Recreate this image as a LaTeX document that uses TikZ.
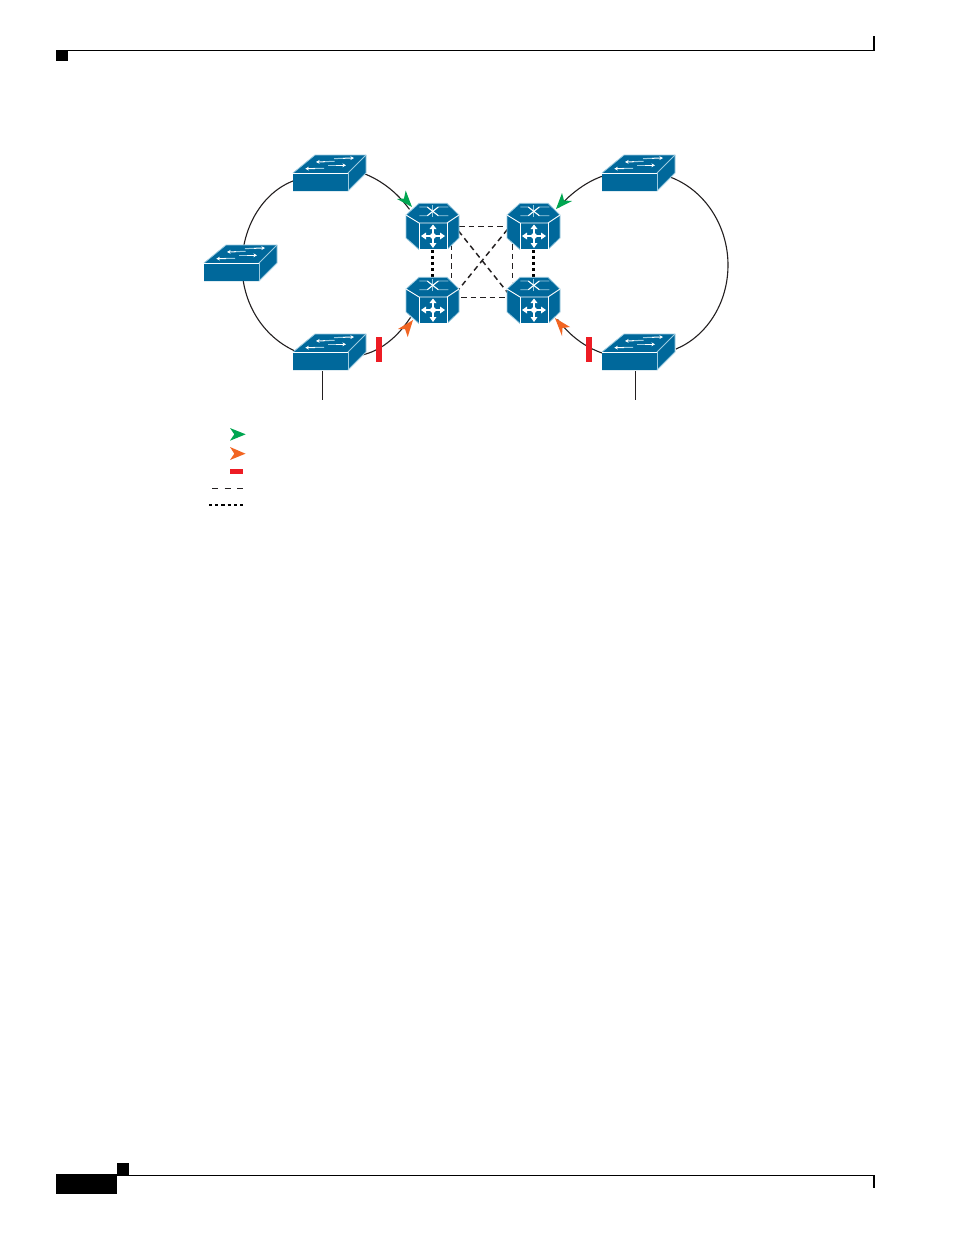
\documentclass[tikz,border=0pt]{standalone}
\definecolor{cblue}{HTML}{00689B}
\definecolor{cedge}{HTML}{9CCBE0}
\definecolor{cgreen}{HTML}{00A651}
\definecolor{corange}{HTML}{F26522}
\definecolor{cred}{HTML}{ED1C24}
\definecolor{cline}{HTML}{231F20}
\usetikzlibrary{arrows.meta}
\tikzset{
  devnode/.style={inner sep=0pt,outer sep=0pt,draw=none},
  swnode/.style={devnode,minimum width=73pt,minimum height=36pt},
  rtnode/.style={devnode,minimum width=53pt,minimum height=46pt},
  conn/.style={draw=cline,line width=1.1pt},
  dashlink/.style={draw=cline,line width=1.45pt,dash pattern=on 5.5pt off 4pt},
  dotlink/.style={draw=black,line width=2.05pt,dash pattern=on 3.1pt off 3.1pt},
  edgew/.style={draw=white,line width=0.9pt},
  edgel/.style={draw=cedge,line width=0.8pt},
  arr/.style={draw=white,line width=1pt,-{Stealth[length=3.6pt,width=3.8pt]}},
  arrl/.style={draw=cedge,line width=1pt},
  redbar/.style={fill=cred,draw=none},
  blk/.style={fill=black,draw=none},
}
% switch icon, origin = front-face top-left corner
\newcommand\swicon[2]{%
\begin{scope}[shift={(#1,#2)}]
  \fill[cblue] (0,0) -- (22,-18) -- (73,-18) -- (73,0) -- (55,18) -- (0,18) -- cycle;
  \draw[edgel] (0,0) -- (22,-18) -- (73,-18) -- (73,0) -- (55,18);
  \draw[edgew] (0,0) -- (55,0);
  \draw[edgel] (55,0) -- (73,-18);
  \draw[edgel] (55,0) -- (55,18);
  \draw[arrl] (41,-14.4) -- (52,-14.7);
  \draw[arr] (50,-14.7) -- (61,-15);
  \draw[arrl] (30,-11.3) -- (41.7,-11.7);
  \draw[arr] (32,-11.3) -- (23,-11);
  \draw[arrl] (35,-7.7) -- (45,-7.7);
  \draw[arr] (43,-7.7) -- (53,-7.7);
  \draw[arrl] (20,-4.5) -- (31,-4.7);
  \draw[arr] (22,-4.5) -- (12.3,-4.3);
\end{scope}}
% router icon, origin = upper-left vertex of the octagon
\newcommand\rticon[2]{%
\begin{scope}[shift={(#1,#2)}]
  \fill[cblue] (0,0) -- (13,-11.7) -- (41,-11.7) -- (53,0) -- (53,23) -- (41,34.5) -- (13,34.5) -- (0,23) -- cycle;
  \draw[edgel] (0,0) -- (13,-11.7) -- (41,-11.7) -- (53,0) -- (53,23) -- (41,34.5) -- (13,34.5) -- (0,23) -- cycle;
  \draw[edgew] (0,0) -- (13,8) -- (41,8) -- (53,0);
  \draw[edgew] (13,8) -- (13,34.5) -- (41,34.5) -- (41,8);
  \draw[edgel] (13.3,-8) -- (21.3,-8) -- (32.3,0.7) -- (42.3,0.7);
  \draw[edgel] (13.3,0.7) -- (21.3,0.7) -- (32.3,-8) -- (42.3,-8);
  \draw[edgel] (26.7,-9.7) -- (26.7,2.3);
  \draw[white,line width=1pt] (21.3,-8) -- (32.3,0.7) (21.3,0.7) -- (32.3,-8);
  \draw[white,line width=1.8pt] (18,21) -- (36,21) (27,12) -- (27,30);
  \fill[white] (27,21) circle (3pt);
  \fill[white] (15,21) -- (20,17.5) -- (20,24.5) -- cycle;
  \fill[white] (39,21) -- (34,17.5) -- (34,24.5) -- cycle;
  \fill[white] (27,9.5) -- (23.5,14) -- (30.5,14) -- cycle;
  \fill[white] (27,33) -- (23.5,28) -- (30.5,28) -- cycle;
\end{scope}}
\begin{document}
\begin{tikzpicture}[x=1pt,y=-1pt]
\useasboundingbox (0,0) rectangle (954,1235);
\fill[white] (0,0) rectangle (954,1235);
% page furniture
\fill[blk] (68,49.8) rectangle (875,50.9);
\fill[blk] (56,50) rectangle (68,60.7);
\fill[blk] (873,36) rectangle (875,50.9);
\fill[blk] (129,1174.8) rectangle (875,1175.9);
\fill[blk] (56,1174) rectangle (117,1194);
\fill[blk] (117,1163) rectangle (129,1175.5);
\fill[blk] (873,1175) rectangle (875,1188);
% device anchors
\node[swnode] (s1) at (329.5,173) {};
\node[swnode] (s2) at (240.5,263) {};
\node[swnode] (s3) at (329.5,352) {};
\node[swnode] (s4) at (638.5,173) {};
\node[swnode] (s5) at (638.5,352) {};
\node[rtnode] (r1) at (432.5,226.4) {};
\node[rtnode] (r2) at (533.5,226.4) {};
\node[rtnode] (r3) at (432.5,300.4) {};
\node[rtnode] (r4) at (533.5,300.4) {};
\coordinate (t1) at (322.4,399.5);
\coordinate (t2) at (635.4,399.5);
% ring links
\draw[conn] ([shift={(-36.5,8)}]s1.center) .. controls (262,193) and (242,228) .. ([shift={(1.5,2)}]s2.center);
\draw[conn] ([shift={(1.5,2)}]s2.center) .. controls (242,302) and (262,336) .. ([shift={(-34.5,-1)}]s3.center);
\draw[conn] ([shift={(35.5,1)}]s1.center) .. controls (380,180) and (396,191) .. ([shift={(-23,-17)}]r1.center);
\draw[conn] ([shift={(32.5,3)}]s3.center) .. controls (380,351) and (397,338) .. ([shift={(-22,17)}]r3.center);
\draw[conn] ([shift={(-35.5,3)}]s4.center) .. controls (588,181) and (572,192) .. ([shift={(25,-19)}]r2.center);
\draw[conn] ([shift={(-36.5,1)}]s5.center) .. controls (585,347) and (570,336) .. ([shift={(24,19)}]r4.center);
\draw[conn] ([shift={(31.5,4)}]s4.center) .. controls (705,190) and (728,226) .. (728,265) .. controls (728,305) and (705,337) .. ([shift={(37.5,-3)}]s5.center);
\draw[conn] ([yshift=-1pt]s3.south -| t1) -- (t1);
\draw[conn] ([yshift=-1pt]s5.south -| t2) -- (t2);
% core links
\draw[dashlink] (r1) -- (r2);
\draw[dashlink] ([shift={(0,-2.7)}]r3.center) -- ([shift={(0,-2.7)}]r4.center);
\draw[dotlink] (r1) -- (r3);
\draw[dotlink] (r2) -- (r4);
\draw[dashlink] ([shift={(19.2,18)}]r1.center) -- ([shift={(19.2,-18)}]r3.center);
\draw[dashlink] ([shift={(-20.8,18)}]r2.center) -- ([shift={(-20.8,-18)}]r4.center);
\draw[dashlink] ([shift={(20,-3)}]r1.center) -- ([shift={(-20,-0.4)}]r4.center);
\draw[dashlink] ([shift={(-20,-4.4)}]r2.center) -- ([shift={(20,-3.4)}]r3.center);
% devices
\swicon{293}{173}
\swicon{204}{263}
\swicon{293}{352}
\swicon{602}{173}
\swicon{602}{352}
\rticon{406}{215}
\rticon{507}{215}
\rticon{406}{289}
\rticon{507}{289}
% arrowheads
\fill[cgreen] (412,207) -- (397,199) -- (404,198.5) -- (405.7,190.5) -- cycle;
\fill[cgreen] (556,209) -- (572,201) -- (564,200.5) -- (562,193) -- cycle;
\fill[corange] (413,320) -- (398,329) -- (405,329) -- (407.7,337) -- cycle;
\fill[corange] (555,318) -- (570,327) -- (562.5,328) -- (562,336) -- cycle;
% blocked ports
\fill[redbar] (376,337) rectangle (382,362);
\fill[redbar] (586,337) rectangle (592,362);
% legend
\fill[cgreen] (245.7,434.3) -- (230,428) -- (234.3,434.3) -- (230,440.7) -- cycle;
\fill[corange] (245.5,453.7) -- (230,447) -- (234.3,453.7) -- (230,460) -- cycle;
\fill[redbar] (230,469) rectangle (243,474);
\coordinate (la) at (212,488.3);
\coordinate (lb) at (243,488.3);
\coordinate (lc) at (209,504.7);
\coordinate (ld) at (243,504.7);
\draw[draw=cline,line width=0.9pt,dash pattern=on 6pt off 6.5pt] (la) -- (lb);
\draw[dotlink,line width=1.8pt] (lc) -- (ld);
\end{tikzpicture}
\end{document}
